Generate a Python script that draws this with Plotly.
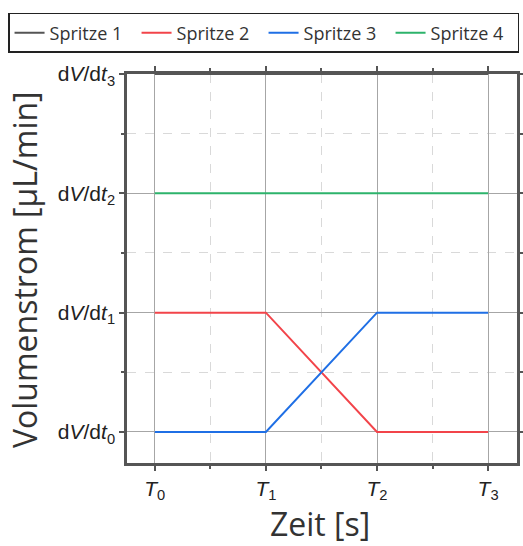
import plotly.graph_objects as go

# Zeitpunkte und Volumenströme der vier Spritzen
zeit = [0, 1, 2, 3]
spritze_1 = [3, 3, 3, 3]
spritze_2 = [1, 1, 0, 0]
spritze_3 = [0, 0, 1, 1]
spritze_4 = [2, 2, 2, 2]

serien = [
    ("Spritze 1", spritze_1, "#555555"),
    ("Spritze 2", spritze_2, "#f2444a"),
    ("Spritze 3", spritze_3, "#1f6fe5"),
    ("Spritze 4", spritze_4, "#2db36b"),
]

x_ticktext = ["<i>T</i><sub>0</sub>", "<i>T</i><sub>1</sub>",
              "<i>T</i><sub>2</sub>", "<i>T</i><sub>3</sub>"]
y_ticktext = ["d<i>V</i>/d<i>t</i><sub>0</sub>", "d<i>V</i>/d<i>t</i><sub>1</sub>",
              "d<i>V</i>/d<i>t</i><sub>2</sub>", "d<i>V</i>/d<i>t</i><sub>3</sub>"]

fig = go.Figure()
for name, werte, farbe in serien:
    fig.add_trace(go.Scatter(x=zeit, y=werte, mode="lines", name=name,
                             line=dict(color=farbe, width=2)))

achse = dict(
    showline=True, linecolor="#555555", linewidth=2.5, mirror="ticks",
    ticks="outside", ticklen=5, tickwidth=2, tickcolor="#555555",
    showgrid=True, gridcolor="#a6a6a6", gridwidth=1,
    zeroline=False, automargin=False,
    tickfont=dict(family="Liberation Sans, Arial", size=21, color="#222222"),
    minor=dict(showgrid=True, gridcolor="#d9d9d9", griddash="dash", gridwidth=1,
               ticks="outside", ticklen=3, tickwidth=1.5, tickcolor="#555555",
               tickvals=[0.5, 1.5, 2.5]),
)

fig.update_xaxes(**achse, range=[-0.25, 3.26], tickvals=zeit, ticktext=x_ticktext)
fig.update_yaxes(**achse, range=[-0.26, 3.0], tickvals=[0, 1, 2, 3], ticktext=y_ticktext)

titel_font = dict(family="Open Sans", size=32, color="#333333")
fig.add_annotation(text="Zeit [s]", xref="paper", yref="paper", x=0.495, y=-0.156,
                   xanchor="center", yanchor="middle", showarrow=False, font=titel_font)
fig.add_annotation(text="Volumenstrom [µL/min]", xref="paper", yref="paper",
                   x=-0.264, y=0.496, xanchor="center", yanchor="middle",
                   textangle=-90, showarrow=False, font=titel_font)

fig.update_layout(
    width=523, height=546,
    margin=dict(l=127, r=6, t=74, b=83, autoexpand=False),
    plot_bgcolor="white", paper_bgcolor="white",
    legend=dict(orientation="h", x=-0.305, xanchor="left", y=1.157, yanchor="top",
                bordercolor="#222222", borderwidth=1.5, bgcolor="white",
                font=dict(family="Open Sans", size=18, color="#333333"),
                entrywidth=82, entrywidthmode="pixels",
                itemwidth=30, tracegroupgap=0),
)

fig.write_html("out.html")
